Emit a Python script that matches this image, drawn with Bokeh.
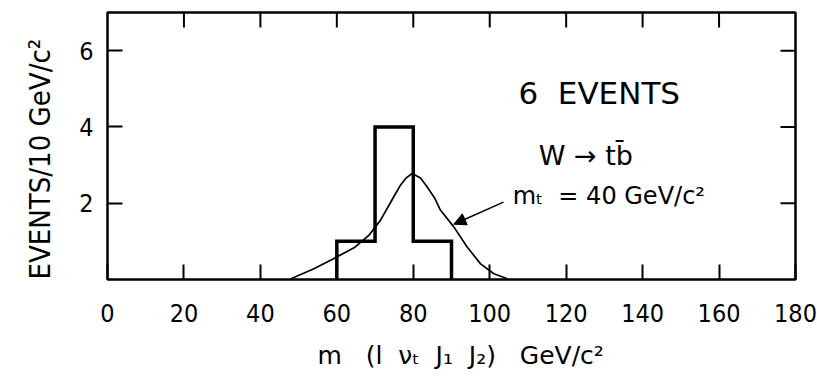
import math
from bokeh.plotting import figure
from bokeh.models import FixedTicker, Label, Arrow, NormalHead, Range1d, Title
from bokeh.embed import file_html
from bokeh.resources import INLINE

# Histogram of reconstructed mass, 10 GeV/c^2 bins
bin_edges = [60, 70, 80, 90]
bin_counts = [1, 4, 1]

# Expected W -> t bbar shape (m_t = 40 GeV/c^2), sampled along the curve
curve_x = [48, 54, 59, 64.5, 68.4, 71.4, 74.9, 76.5, 78, 79.7, 81.9, 83.6, 85.5, 87.1,
           90.6, 94.1, 97.6, 101.1, 104.6]
curve_y = [0.02, 0.28, 0.54, 0.83, 1.16, 1.55, 2.17, 2.45, 2.65, 2.78, 2.66, 2.43, 2.15, 1.82,
           1.38, 0.85, 0.41, 0.15, 0.02]

x_ticks = [0, 20, 40, 60, 80, 100, 120, 140, 160, 180]
y_ticks = [2, 4, 6]

NARROW = "Liberation Sans Narrow, DejaVu Sans Condensed, sans-serif"
TEXT_FONT = "DejaVu Sans"
NB = "\u00a0"

p = figure(frame_width=688, frame_height=267,
           x_range=Range1d(0, 180), y_range=Range1d(0, 7),
           min_border_left=107, min_border_right=22, min_border_top=12, min_border_bottom=103,
           output_backend="svg", toolbar_location=None)
p.background_fill_color = "white"
p.border_fill_color = "white"
p.grid.visible = False
p.outline_line_color = "black"
p.outline_line_width = 2.5

for ax, ticks, standoff in ((p.xaxis[0], x_ticks, 24), (p.yaxis[0], y_ticks, 14)):
    ax.ticker = FixedTicker(ticks=ticks)
    ax.axis_line_color = None
    ax.major_tick_in = 15
    ax.major_tick_out = 0
    ax.major_tick_line_width = 2
    ax.major_tick_line_color = "black"
    ax.minor_tick_line_color = None
    ax.major_label_text_font = NARROW
    ax.major_label_text_font_size = "25px"
    ax.major_label_text_color = "black"
    ax.major_label_standoff = standoff

# inward ticks along the top and right edges of the frame
p.ray(x=x_ticks[1:-1], y=[7] * (len(x_ticks) - 2), length=15, length_units="screen",
      angle=-math.pi / 2, line_color="black", line_width=2)
p.ray(x=[180] * len(y_ticks), y=y_ticks, length=15, length_units="screen",
      angle=math.pi, line_color="black", line_width=2)

# axis titles
p.add_layout(Title(text="EVENTS/10 GeV/c²", align="left", offset=0, standoff=39,
                   text_font=NARROW, text_font_size="29px", text_font_style="normal",
                   text_color="black"), "left")
p.add_layout(Title(text=f"m{NB*3}(l{NB*2}νₜ{NB*2}J₁{NB*2}J₂){NB*3}GeV/c²", align="left",
                   offset=210, standoff=29, text_font=TEXT_FONT, text_font_size="25px",
                   text_font_style="normal", text_color="black"), "below")

# histogram outline drawn as a step path
hx, hy = [bin_edges[0]], [0]
for i, c in enumerate(bin_counts):
    hx += [bin_edges[i], bin_edges[i + 1]]
    hy += [c, c]
hx.append(bin_edges[-1])
hy.append(0)
p.line(hx, hy, line_color="black", line_width=3.5, line_join="miter")

p.line(curve_x, curve_y, line_color="black", line_width=1.7)

p.add_layout(Label(x=107.5, y=4.9, text=f"6{NB}{NB}EVENTS", text_font=TEXT_FONT,
                   text_font_size="31px", text_baseline="alphabetic", text_color="black"))
p.add_layout(Label(x=112.8, y=3.25, text="W → tb̄", text_font=TEXT_FONT,
                   text_font_size="27px", text_baseline="alphabetic", text_color="black"))
p.add_layout(Label(x=106, y=2.2, text=f"mₜ{NB}{NB}= 40 GeV/c²", text_font=TEXT_FONT,
                   text_font_size="24px", text_baseline="alphabetic", text_color="black"))

p.add_layout(Arrow(end=NormalHead(size=12, fill_color="black", line_color="black"),
                   x_start=103.6, y_start=2.03, x_end=90.6, y_end=1.45,
                   line_color="black", line_width=1.5))

open("out.html", "w").write(file_html(p, INLINE))
